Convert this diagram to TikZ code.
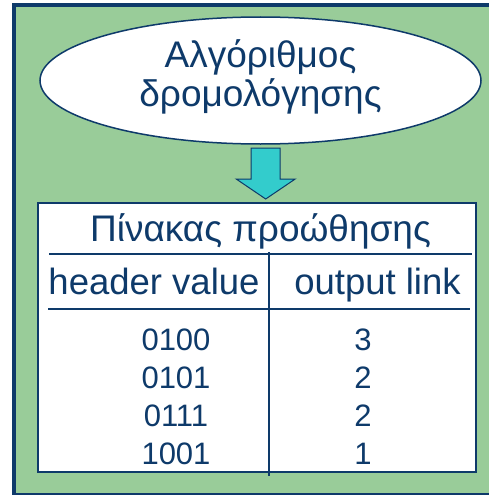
\documentclass[tikz,border=0pt]{standalone}
\usepackage{fontspec}
\setmainfont{Liberation Sans}
\usetikzlibrary{positioning,shapes.geometric,calc}
\definecolor{navy}{HTML}{0E3A6A}
\definecolor{paleGreen}{HTML}{99CC99}
\definecolor{arrowCyan}{HTML}{33CCCC}

\begin{document}
\begin{tikzpicture}[x=1pt,y=-1pt,
    every node/.style={text=navy,inner sep=0pt},
    cell/.style={font=\fontsize{31}{31}\selectfont,anchor=base},
    rule/.style={navy,line width=1.5}]
    \useasboundingbox (0,0) rectangle (489,495);

    \fill[paleGreen] (14,5) rectangle (495,494);
    \draw[navy,line width=4] (14,497) -- (14,5.5) -- (495,5.5);
    \draw[navy,line width=1.5] (14,494) -- (495,494);

    \node[ellipse,draw=navy,line width=1.5,fill=white,
      minimum width=441,minimum height=127] (algo) at (260.5,80.5) {};
    \node[align=center,font=\fontsize{37}{39}\selectfont] (algotxt)
      at ($(algo)+(0,-4)$) {Αλγόριθμος\\δρομολόγησης};

    \node[draw=navy,line width=2,fill=white,
      minimum width=438,minimum height=269] (fwd) at (257,337.5) {};

    \coordinate (tip) at ($(fwd.north)+(8.7,-3)$);
    \draw[navy,line width=1,fill=arrowCyan,line join=miter]
    (tip) -- ++(-29.5,-20) -- ++(15,0) -- ++(0,-31) -- ++(29,0)
    -- ++(0,31) -- ++(15,0) -- cycle;

    \node[font=\fontsize{37}{37}\selectfont,anchor=base] (title)
      at (260.5,241.7) {Πίνακας προώθησης};
    \draw[rule] (49,254) -- (472,254);

    \node[font=\fontsize{36.5}{36.5}\selectfont,anchor=base] (hdrval)
      at (154,294.3) {header value};
    \node[font=\fontsize{36.5}{36.5}\selectfont,anchor=base] (outlink)
      at (377.5,294.3) {output link};
    \draw[rule] (48,309) -- (470,309);
    \draw[rule] (269,252) -- (269,476);

    \foreach \val/\lnk [count=\i] in {0100/3,0101/2,0111/2,1001/1} {
      \node[cell] (val\i) at (176,{312+38*\i}) {\val};
      \node[cell] (lnk\i) at (363,{312+38*\i}) {\lnk};
    }
\end{tikzpicture}
\end{document}
